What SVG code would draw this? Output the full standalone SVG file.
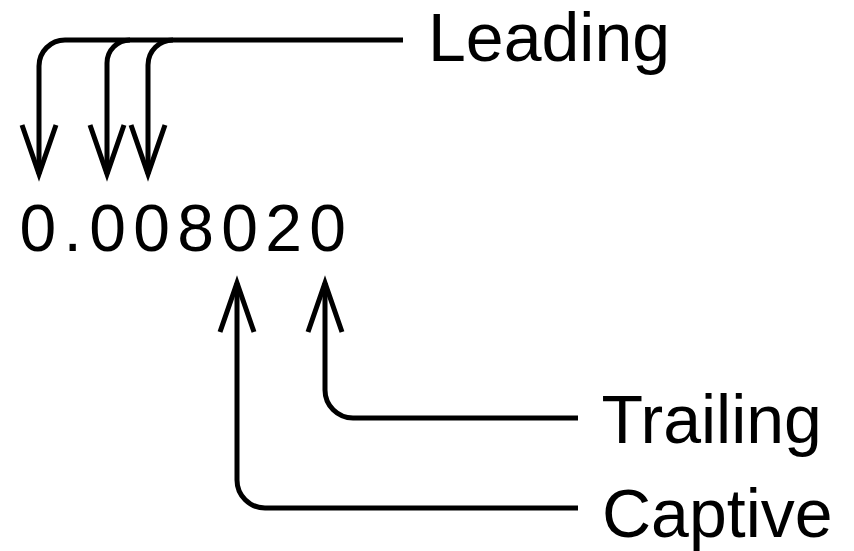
<svg xmlns="http://www.w3.org/2000/svg" width="854" height="551" viewBox="0 0 854 551">
  <style>
    .lbl { font-family: "Liberation Sans", Arial, sans-serif; font-size: 68px; fill: #000; }
    .num { font-size: 66px; letter-spacing: 7.3px; }
    .wire { fill: none; stroke: #000; stroke-width: 5; stroke-linecap: butt; }
  </style>
  <defs>
    <marker id="open-arrow" markerUnits="userSpaceOnUse" markerWidth="60" markerHeight="44" viewBox="-54 -22 60 44" refX="0" refY="0" orient="auto" overflow="visible">
      <path d="M-49,-17 L0,0 L-49,17" fill="none" stroke="#000" stroke-width="5" stroke-linejoin="miter" stroke-miterlimit="10"/>
    </marker>
  </defs>
  <rect width="854" height="551" fill="#fff"/>

  <g id="connectors">
    <!-- leading zeros: one bus line splitting into three arrows -->
    <path class="wire" d="M403,40 H65 A26,26 0 0 0 39,66 V174" marker-end="url(#open-arrow)"/>
    <path class="wire" d="M130,40 A23,23 0 0 0 107,63 V174" marker-end="url(#open-arrow)"/>
    <path class="wire" d="M173,40 A25,25 0 0 0 148,65 V174" marker-end="url(#open-arrow)"/>
    <!-- trailing zero -->
    <path class="wire" d="M578,418 H353 A28,28 0 0 1 325,390 V283" marker-end="url(#open-arrow)"/>
    <!-- captive zero -->
    <path class="wire" d="M578,508 H265 A28,28 0 0 1 237,480 V283" marker-end="url(#open-arrow)"/>
  </g>

  <g id="number">
    <text class="lbl num" x="19.5" y="251">0.008020</text>
  </g>
  <g id="leading">
    <text class="lbl" x="428" y="61">Leading</text>
  </g>
  <g id="trailing">
    <text class="lbl" x="601.5" y="443">Trailing</text>
  </g>
  <g id="captive">
    <text class="lbl" x="602" y="537">Captive</text>
  </g>
</svg>
